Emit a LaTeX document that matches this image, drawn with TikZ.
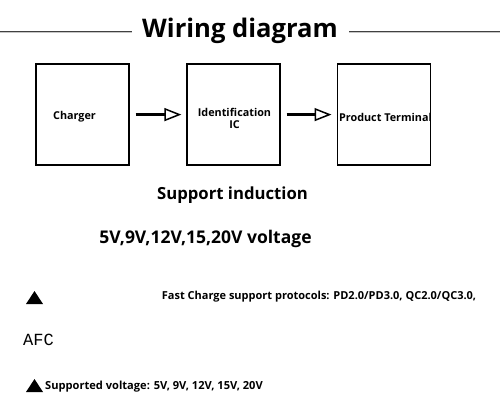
\documentclass[tikz,border=0pt]{standalone}
\usepackage{fontspec}
\setmainfont{Open Sans}[Ligatures={NoCommon}]
\newfontfamily\afcfont{Liberation Mono}
\usetikzlibrary{arrows.meta}
\tikzset{
  box/.style={draw=black, line width=1.4pt, minimum width=93pt, minimum height=101pt, inner sep=0pt},
  boxtext/.style={font=\bfseries\fontsize{10.8}{12.5}\selectfont, align=center, inner sep=0pt},
  flow/.style={line width=3pt, -{Triangle[open, line width=1.5pt, length=17pt, width=13pt]}},
  rule/.style={draw=black!75, line width=0.8pt, double=gray!45, double distance=0.8pt},
  bodytext/.style={font=\bfseries, inner sep=0pt},
  bullet/.style={fill=black, draw=none}
}
\begin{document}
\begin{tikzpicture}[x=1pt, y=-1pt]
\useasboundingbox (0,0) rectangle (500,407);
% title
\node[font=\bfseries\fontsize{25.6}{30}\selectfont, inner sep=0pt] (title) at (240,31) {Wiring diagram};
\coordinate (ll) at (0,32);
\coordinate (lr) at (132,32);
\coordinate (rl) at (349,32);
\coordinate (rr) at (500,32);
\draw[rule] (ll) -- (lr);
\draw[rule] (rl) -- (rr);
% boxes
\node[box] (b1) at (82.4,114.6) {};
\node[box] (b2) at (233.3,114.6) {};
\node[box] (b3) at (384.2,114.6) {};
\node[boxtext] (t1) at (74.5,117) {Charger};
\node[boxtext] (t2) at (234.5,118.5) {Identification\\IC};
\node[boxtext] (t3) at (385.5,117) {Product Terminal};
% arrows
\draw[flow, shorten <=6pt, shorten >=4.7pt] (b1) -- (b2);
\draw[flow, shorten <=6pt, shorten >=5.5pt] (b2) -- (b3);
% support text
\node[bodytext, font=\bfseries\fontsize{16.7}{19}\selectfont] (s1) at (232.5,195) {Support induction};
\node[bodytext, font=\bfseries\fontsize{17.5}{20}\selectfont] (s2) at (205.5,239) {5V,9V,12V,15,20V voltage};
% bullets
\fill[bullet] (26,304) -- (43,304) -- (34.5,291) -- cycle;
\node[bodytext, font=\bfseries\fontsize{11}{13}\selectfont, anchor=west] (p1) at (161.7,297) {Fast Charge support protocols: PD2.0/PD3.0, QC2.0/QC3.0,};
\node[inner sep=0pt, anchor=west, font=\afcfont\fontsize{17}{20}\selectfont] (afc) at (23,340) {AFC};
\fill[bullet] (26,392) -- (43,392) -- (34.5,379) -- cycle;
\node[bodytext, font=\bfseries\fontsize{11.1}{13}\selectfont, anchor=west] (p2) at (45,386.5) {Supported voltage: 5V, 9V, 12V, 15V, 20V};
\end{tikzpicture}
\end{document}
